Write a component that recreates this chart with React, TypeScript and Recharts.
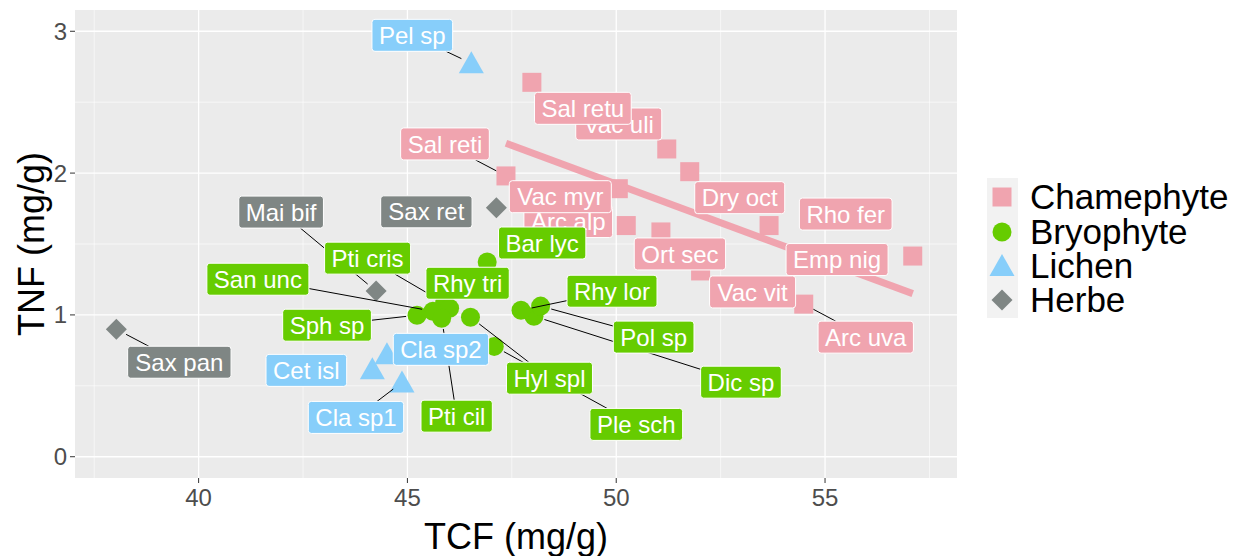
import React from "react";
import { ScatterChart, Scatter, XAxis, YAxis, CartesianGrid } from "recharts";

// ---- data ----
const groups = ["Chamephyte", "Bryophyte", "Lichen", "Herbe"];

const chamephyteNames = ["Vac uli", "Sal retu", "Sal reti", "Arc alp", "Vac myr", "Ort sec", "Dry oct", "Rho fer", "Emp nig", "Vac vit", "Arc uva"];
const chamephyteTCF = [51.21, 47.98, 47.36, 50.24, 50.05, 51.07, 51.76, 57.1, 53.66, 52.02, 54.49];
const chamephyteTNF = [2.17, 2.64, 1.98, 1.63, 1.89, 1.585, 2.01, 1.415, 1.63, 1.31, 1.076];

const bryophyteNames = ["San unc", "Sph sp", "Pti cris", "Rhy tri", "Pti cil", "Hyl spl", "Ple sch", "Bar lyc", "Dic sp", "Pol sp", "Rhy lor"];
const bryophyteTCF = [45.61, 45.23, 45.89, 46.01, 45.82, 46.51, 47.08, 46.91, 48.03, 48.19, 47.72];
const bryophyteTNF = [1.026, 0.998, 1.083, 1.047, 0.977, 0.984, 0.778, 1.373, 0.991, 1.062, 1.033];

const lichenNames = ["Pel sp", "Cet isl", "Cla sp1", "Cla sp2"];
const lichenTCF = [46.53, 44.16, 44.87, 44.51];
const lichenTNF = [2.774, 0.616, 0.524, 0.722];

const herbeNames = ["Sax pan", "Mai bif", "Sax ret"];
const herbeTCF = [38.03, 44.25, 47.13];
const herbeTNF = [0.899, 1.168, 1.755];

// linear fit for Chamephyte, end points
const trendTCF = [47.36, 57.1];
const trendTNF = [2.21, 1.15];

const xTicks = [40, 45, 50, 55];
const yTicks = [0, 1, 2, 3];
const xMinor = [37.5, 42.5, 47.5, 52.5, 57.5];
const yMinor = [0.5, 1.5, 2.5];

// ---- styling / layout ----
const COLORS: Record<string, string> = {
  Chamephyte: "#F0A4AF",
  Bryophyte: "#66CC00",
  Lichen: "#87CEFA",
  Herbe: "#7F8684",
};

// where the repelled labels ended up, px from the point to the label centre
const labelOffset: Record<string, [number, number]> = {
  "Sal retu": [51, 26],
  "Vac uli": [-48, -25],
  "Sal reti": [-61, -32],
  "Vac myr": [-58, 8],
  "Arc alp": [-58, -4],
  "Ort sec": [19, 22],
  "Dry oct": [50, 26],
  "Rho fer": [-67, -42],
  "Emp nig": [68, 34],
  "Vac vit": [52, 21],
  "Arc uva": [62, 33],
  "San unc": [-175, -32],
  "Sph sp": [-90, 10],
  "Pti cris": [-77, -45],
  "Rhy tri": [18, -25],
  "Pti cil": [15, 98],
  "Hyl spl": [79, 61],
  "Ple sch": [142, 78],
  "Bar lyc": [55, -19],
  "Dic sp": [207, 66],
  "Pol sp": [113, 31],
  "Rhy lor": [91, -19],
  "Pel sp": [-59, -28],
  "Cla sp2": [54, -5],
  "Cet isl": [-66, 1],
  "Cla sp1": [-46, 35],
  "Sax pan": [63, 33],
  "Mai bif": [-95, -79],
  "Sax ret": [-70, 4],
};
const withSegment = new Set([
  "Pel sp", "Sal reti", "Arc uva", "Mai bif", "Sax pan", "San unc", "Pti cris", "Sph sp",
  "Pti cil", "Hyl spl", "Ple sch", "Rhy lor", "Pol sp", "Dic sp", "Cla sp1",
]);

const FONT = "'Liberation Sans', Arial, sans-serif";
const LABEL_SIZE = 24;
const LABEL_H = 32;

const build = (names: string[], xs: number[], ys: number[], group: string) =>
  names.map((name, i) => ({ name, group, x: xs[i], y: ys[i] }));

const series: Record<string, any[]> = {
  Chamephyte: build(chamephyteNames, chamephyteTCF, chamephyteTNF, "Chamephyte"),
  Bryophyte: build(bryophyteNames, bryophyteTCF, bryophyteTNF, "Bryophyte"),
  Lichen: build(lichenNames, lichenTCF, lichenTNF, "Lichen"),
  Herbe: build(herbeNames, herbeTCF, herbeTNF, "Herbe"),
};
const allPoints = groups.flatMap((g) => series[g]);
const trend = trendTCF.map((x, i) => ({ x, y: trendTNF[i] }));

// Arial advance widths, per 1000 em
const W: Record<string, number> = {
  a: 556, b: 556, c: 500, d: 556, e: 556, f: 278, g: 556, h: 556, i: 222, k: 500, l: 222,
  m: 833, n: 556, o: 556, p: 556, r: 333, s: 500, t: 278, u: 556, v: 500, y: 500, " ": 278,
  "1": 556, "2": 556, A: 667, B: 667, C: 722, D: 722, E: 667, H: 722, M: 833, O: 778,
  P: 667, R: 722, S: 667, V: 667,
};
const labelWidth = (s: string) =>
  [...s].reduce((w, ch) => w + (W[ch] ?? 556), 0) * LABEL_SIZE / 1000 + 14;

function Marker({ cx, cy, group }: { cx: number; cy: number; group: string }) {
  const c = COLORS[group];
  if (group === "Chamephyte") return <rect x={cx - 9.5} y={cy - 9.5} width={19} height={19} fill={c} />;
  if (group === "Bryophyte") return <circle cx={cx} cy={cy} r={9.5} fill={c} />;
  if (group === "Lichen")
    return <polygon points={`${cx},${cy - 12} ${cx + 12.5},${cy + 10} ${cx - 12.5},${cy + 10}`} fill={c} />;
  return <polygon points={`${cx},${cy - 10.5} ${cx + 10.5},${cy} ${cx},${cy + 10.5} ${cx - 10.5},${cy}`} fill={c} />;
}

const Segment = (p: any) => {
  const name = p.payload.name;
  if (!withSegment.has(name)) return <g />;
  const [dx, dy] = labelOffset[name];
  const len = Math.hypot(dx, dy);
  const t = Math.min(labelWidth(name) / 2 / Math.max(Math.abs(dx), 1e-6), LABEL_H / 2 / Math.max(Math.abs(dy), 1e-6));
  return (
    <line
      x1={p.cx + (dx / len) * 11}
      y1={p.cy + (dy / len) * 11}
      x2={p.cx + dx * (1 - t)}
      y2={p.cy + dy * (1 - t)}
      stroke="#000"
      strokeWidth={1}
    />
  );
};

const LabelBox = (p: any) => {
  const { name, group } = p.payload;
  const [dx, dy] = labelOffset[name];
  const w = labelWidth(name);
  const x = p.cx + dx;
  const y = p.cy + dy;
  return (
    <g>
      <rect x={x - w / 2} y={y - LABEL_H / 2} width={w} height={LABEL_H} rx={3} fill={COLORS[group]} stroke="#fff" strokeWidth={1} />
      <text x={x} y={y} dy="0.36em" textAnchor="middle" fill="#fff" fontSize={LABEL_SIZE} fontFamily={FONT}>
        {name}
      </text>
    </g>
  );
};

const XTick = ({ x, y, payload }: any) => (
  <text x={x} y={y + 21} textAnchor="middle" fill="#4D4D4D" fontSize={24} fontFamily={FONT}>
    {payload.value}
  </text>
);
const YTick = ({ x, y, payload }: any) => (
  <text x={x - 1} y={y + 8.5} textAnchor="end" fill="#4D4D4D" fontSize={24} fontFamily={FONT}>
    {payload.value}
  </text>
);

const legendY = [197, 232, 266, 300];

export default function App() {
  return (
    <div style={{ position: "absolute", left: 0, top: 0, width: 1247, height: 556, background: "#fff", fontFamily: FONT }}>
      <ScatterChart width={1247} height={556} margin={{ top: 10, right: 290, bottom: 0, left: 0 }}>
        <CartesianGrid fill="#EBEBEB" stroke="#fff" strokeWidth={0.6} horizontalValues={yMinor} verticalValues={xMinor} />
        <CartesianGrid stroke="#fff" strokeWidth={1.3} horizontalValues={yTicks} verticalValues={xTicks} />
        <XAxis
          type="number"
          dataKey="x"
          domain={[37.04, 58.16]}
          ticks={xTicks}
          height={78}
          axisLine={false}
          tickLine={{ stroke: "#333" }}
          tickSize={5}
          tickMargin={2}
          tick={<XTick />}
        />
        <YAxis
          type="number"
          dataKey="y"
          domain={[-0.15, 3.15]}
          ticks={yTicks}
          width={75}
          axisLine={false}
          tickLine={{ stroke: "#333" }}
          tickSize={5}
          tickMargin={2}
          tick={<YTick />}
        />
        {groups.map((g) => (
          <Scatter
            key={g}
            data={series[g]}
            isAnimationActive={false}
            shape={(p: any) => <Marker cx={p.cx} cy={p.cy} group={g} />}
          />
        ))}
        <Scatter
          data={trend}
          isAnimationActive={false}
          line={{ stroke: COLORS.Chamephyte, strokeWidth: 7 }}
          shape={() => <g />}
        />
        <Scatter data={allPoints} isAnimationActive={false} shape={Segment} />
        <Scatter data={allPoints} isAnimationActive={false} shape={LabelBox} />
      </ScatterChart>

      <svg width={1247} height={556} style={{ position: "absolute", left: 0, top: 0, pointerEvents: "none" }}>
        <text x={516} y={549} textAnchor="middle" fontSize={36} fill="#000">
          TCF (mg/g)
        </text>
        <text x={44} y={244} transform="rotate(-90 44 244)" textAnchor="middle" fontSize={36} fill="#000">
          TNF (mg/g)
        </text>
        <rect x={987} y={178} width={31} height={140} fill="#F2F2F2" />
        {groups.map((g, i) => (
          <g key={g}>
            <Marker cx={1002} cy={legendY[i]} group={g} />
            <text x={1030} y={legendY[i] + 12} fontSize={35} fill="#000">
              {g}
            </text>
          </g>
        ))}
      </svg>
    </div>
  );
}
